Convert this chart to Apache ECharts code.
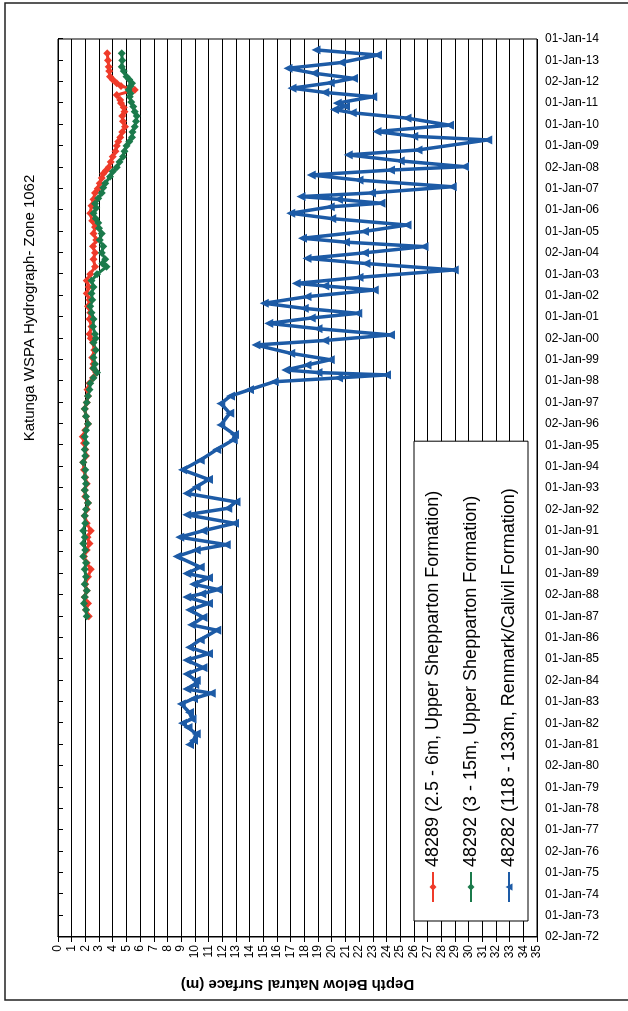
<!DOCTYPE html>
<html>
<head>
<meta charset="utf-8">
<title>Katunga WSPA Hydrograph- Zone 1062</title>
<script src="https://cdn.jsdelivr.net/npm/echarts/dist/echarts.min.js"></script>
<style>
  html, body { margin: 0; padding: 0; background: #fff; overflow: hidden; }
  /* the chart is laid out landscape and turned a quarter turn, like the scanned page */
  #chart {
    position: absolute; left: 0; top: 0;
    width: 1011px; height: 628px;
    transform-origin: 0 0;
    transform: translate(0, 1011px) rotate(-90deg);
  }
</style>
</head>
<body>
<div id="chart"></div>
<script>
// tick labels of the date axis, one a year from 1972 to 2014
const dateLabels = [
  "02-Jan-72", "01-Jan-73", "01-Jan-74", "01-Jan-75", "02-Jan-76", "01-Jan-77",
  "01-Jan-78", "01-Jan-79", "02-Jan-80", "01-Jan-81", "01-Jan-82", "01-Jan-83",
  "02-Jan-84", "01-Jan-85", "01-Jan-86", "01-Jan-87", "02-Jan-88", "01-Jan-89",
  "01-Jan-90", "01-Jan-91", "02-Jan-92", "01-Jan-93", "01-Jan-94", "01-Jan-95",
  "02-Jan-96", "01-Jan-97", "01-Jan-98", "01-Jan-99", "02-Jan-00", "01-Jan-01",
  "01-Jan-02", "01-Jan-03", "02-Jan-04", "01-Jan-05", "01-Jan-06", "01-Jan-07",
  "02-Jan-08", "01-Jan-09", "01-Jan-10", "01-Jan-11", "02-Jan-12", "01-Jan-13",
  "01-Jan-14"
];

const seriesNames = [
  "48289 (2.5 - 6m, Upper Shepparton Formation)",
  "48292 (3 - 15m, Upper Shepparton Formation)",
  "48282 (118 - 133m, Renmark/Calivil Formation)"
];

// [year, depth below natural surface (m)]
const bore48289 = [
  [1987.0, 2.25], [1987.3, 2.05], [1987.6, 2.2], [1987.9, 1.95], [1988.2, 2.1],
  [1988.5, 2.0], [1988.85, 2.2], [1989.2, 2.4], [1989.5, 2.1], [1989.8, 1.9],
  [1990.1, 2.1], [1990.4, 2.3], [1990.7, 2.15], [1991.0, 2.4], [1991.35, 2.1],
  [1991.7, 1.95], [1992.0, 2.1], [1992.3, 2.2], [1992.6, 2.0], [1992.9, 1.95],
  [1993.2, 2.1], [1993.5, 2.0], [1993.85, 1.9], [1994.2, 1.85], [1994.5, 2.05],
  [1994.8, 2.0], [1995.1, 1.9], [1995.4, 1.8], [1995.7, 2.0], [1996.0, 2.2],
  [1996.35, 2.05], [1996.7, 1.95], [1997.0, 2.1], [1997.3, 2.2], [1997.6, 2.15],
  [1997.9, 2.3], [1998.15, 2.55], [1998.4, 2.8], [1998.6, 2.55], [1998.8, 2.6],
  [1999.1, 2.5], [1999.45, 2.65], [1999.8, 2.55], [2000.0, 2.4], [2000.2, 2.3],
  [2000.55, 2.45], [2000.9, 2.3], [2001.2, 2.35], [2001.5, 2.2], [2001.8, 2.3],
  [2002.1, 2.1], [2002.4, 2.25], [2002.7, 2.1], [2003.0, 2.35], [2003.35, 2.7],
  [2003.7, 2.6], [2004.0, 2.7], [2004.3, 2.55], [2004.6, 2.8], [2004.9, 2.6],
  [2005.2, 2.7], [2005.5, 2.5], [2005.85, 2.35], [2006.2, 2.45], [2006.5, 2.6],
  [2006.8, 2.7], [2007.0, 2.9], [2007.25, 3.05], [2007.5, 3.2], [2007.7, 3.3],
  [2007.85, 3.5], [2008.0, 3.7], [2008.25, 3.85], [2008.5, 4.0], [2008.75, 4.2],
  [2009.0, 4.3], [2009.2, 4.4], [2009.4, 4.55], [2009.65, 4.7], [2009.9, 4.9],
  [2010.15, 4.75], [2010.4, 4.7], [2010.6, 4.85], [2010.8, 4.8], [2011.0, 4.6],
  [2011.15, 4.55], [2011.38, 4.3], [2011.62, 5.6], [2011.8, 4.6], [2011.93, 4.3],
  [2012.1, 4.0], [2012.24, 3.8], [2012.5, 3.75], [2012.7, 3.7], [2013.0, 3.65],
  [2013.33, 3.6]
];

const bore48292 = [
  [1987.0, 2.1], [1987.3, 2.05], [1987.6, 1.9], [1987.9, 1.95], [1988.2, 2.1],
  [1988.5, 1.95], [1988.85, 2.05], [1989.2, 1.95], [1989.5, 2.05], [1989.8, 1.85],
  [1990.1, 2.0], [1990.4, 1.85], [1990.7, 1.95], [1991.0, 1.85], [1991.35, 2.0],
  [1991.7, 1.95], [1992.0, 2.05], [1992.3, 2.2], [1992.6, 2.05], [1992.9, 1.95],
  [1993.2, 2.05], [1993.5, 1.95], [1993.85, 2.0], [1994.2, 1.85], [1994.5, 2.0],
  [1994.8, 1.95], [1995.1, 2.05], [1995.4, 1.95], [1995.7, 2.05], [1996.0, 2.2],
  [1996.35, 2.05], [1996.7, 1.95], [1997.0, 2.1], [1997.3, 2.2], [1997.6, 2.3],
  [1997.9, 2.35], [1998.15, 2.6], [1998.4, 2.85], [1998.6, 2.6], [1998.8, 2.7],
  [1999.1, 2.6], [1999.45, 2.75], [1999.8, 2.6], [2000.0, 2.75], [2000.2, 2.7],
  [2000.55, 2.55], [2000.9, 2.6], [2001.2, 2.45], [2001.5, 2.35], [2001.8, 2.5],
  [2002.1, 2.45], [2002.4, 2.6], [2002.7, 2.45], [2003.0, 2.85], [2003.35, 3.55],
  [2003.5, 3.25], [2003.7, 3.45], [2004.0, 3.2], [2004.3, 3.3], [2004.6, 3.05],
  [2004.9, 3.2], [2005.15, 3.0], [2005.4, 2.95], [2005.6, 2.75], [2005.85, 2.6],
  [2006.1, 2.8], [2006.3, 2.7], [2006.55, 2.95], [2006.8, 3.2], [2007.05, 3.3],
  [2007.25, 3.45], [2007.56, 3.8], [2007.8, 4.0], [2008.0, 4.3], [2008.25, 4.5],
  [2008.5, 4.75], [2008.75, 4.85], [2009.0, 5.0], [2009.2, 5.2], [2009.4, 5.4],
  [2009.65, 5.45], [2009.9, 5.6], [2010.15, 5.7], [2010.4, 5.75], [2010.6, 5.6],
  [2010.84, 5.5], [2011.05, 5.35], [2011.3, 5.25], [2011.45, 5.3], [2011.62, 5.15],
  [2011.8, 5.3], [2011.93, 5.4], [2012.1, 5.2], [2012.24, 5.0], [2012.5, 4.8],
  [2012.7, 4.65], [2013.0, 4.7], [2013.33, 4.65]
];

const bore48282 = [
  [1981.0, 9.6], [1981.2, 9.9], [1981.5, 10.1], [1981.8, 9.5], [1982.0, 9.1],
  [1982.2, 9.8], [1982.5, 9.6], [1982.9, 9.0], [1983.15, 9.9], [1983.4, 11.2],
  [1983.6, 9.4], [1983.8, 10.0], [1984.0, 10.1], [1984.3, 9.4], [1984.6, 10.6],
  [1984.95, 9.4], [1985.25, 11.0], [1985.55, 9.6], [1985.9, 10.4], [1986.35, 11.6],
  [1986.6, 9.75], [1986.95, 10.6], [1987.3, 9.6], [1987.6, 11.0], [1987.9, 9.4],
  [1988.05, 10.5], [1988.25, 11.7], [1988.5, 9.9], [1988.8, 11.0], [1989.0, 9.4],
  [1989.3, 10.4], [1989.8, 8.7], [1990.1, 10.1], [1990.35, 12.3], [1990.7, 8.9],
  [1991.0, 10.6], [1991.35, 12.9], [1991.75, 9.4], [1992.05, 12.4], [1992.35, 13.0],
  [1992.75, 9.4], [1993.05, 10.1], [1993.4, 11.0], [1993.85, 9.1], [1994.3, 10.4],
  [1994.8, 11.6], [1995.25, 12.8], [1995.5, 12.9], [1995.95, 11.9], [1996.5, 12.55],
  [1996.95, 11.9], [1997.3, 12.6], [1997.6, 14.0], [1997.97, 15.8], [1998.15, 20.5],
  [1998.29, 24.0], [1998.4, 19.0], [1998.52, 16.65], [1998.75, 18.2], [1999.0, 19.9],
  [1999.3, 17.0], [1999.69, 14.46], [1999.9, 19.5], [2000.16, 24.3], [2000.45, 19.0],
  [2000.7, 15.4], [2000.95, 18.5], [2001.17, 21.9], [2001.4, 18.0], [2001.64, 15.07],
  [2001.95, 18.2], [2002.26, 23.1], [2002.45, 19.5], [2002.57, 17.4], [2002.85, 22.0],
  [2003.2, 28.95], [2003.5, 22.5], [2003.74, 18.2], [2004.0, 22.4], [2004.29, 26.75],
  [2004.5, 21.0], [2004.68, 17.87], [2005.0, 22.4], [2005.3, 25.5], [2005.6, 20.0],
  [2005.85, 17.0], [2006.15, 19.9], [2006.32, 23.6], [2006.5, 20.5], [2006.63, 17.75],
  [2006.8, 22.9], [2007.09, 28.8], [2007.4, 22.0], [2007.64, 18.5], [2007.87, 24.3],
  [2008.03, 29.7], [2008.3, 25.0], [2008.58, 21.2], [2008.81, 26.3], [2009.28, 31.4],
  [2009.45, 26.0], [2009.67, 23.3], [2009.97, 28.6], [2010.3, 25.5], [2010.55, 21.5],
  [2010.7, 20.2], [2010.85, 21.0], [2011.0, 20.4], [2011.3, 23.0], [2011.5, 19.5],
  [2011.7, 17.1], [2011.95, 19.9], [2012.16, 21.6], [2012.4, 18.7], [2012.63, 16.8],
  [2012.9, 20.7], [2013.25, 23.35], [2013.49, 18.85]
];

const FONT = "'Liberation Sans', Arial, sans-serif";

const chart = echarts.init(document.getElementById("chart"));

const option = {
  animation: false,
  backgroundColor: "#fff",
  grid: {
    left: 74, right: 39, top: 58, bottom: 91,
    show: true, borderColor: "#000", borderWidth: 1
  },
  graphic: [
    {
      type: "text", x: 703, y: 30,
      style: {
        text: "Katunga WSPA Hydrograph- Zone 1062",
        fontFamily: FONT, fontSize: 15, fill: "#000",
        textAlign: "center", textVerticalAlign: "middle"
      }
    },
    {
      type: "rect", silent: true,
      shape: { x: 11, y: 5, width: 997, height: 640 },
      style: { fill: null, stroke: "#222", lineWidth: 1.5 }
    }
  ],
  legend: {
    orient: "vertical",
    left: 90, top: 414,
    padding: [10, 47, 10, 18],
    itemGap: 20,
    itemWidth: 30, itemHeight: 9,
    backgroundColor: "#fff",
    borderColor: "#000", borderWidth: 1,
    borderRadius: 0,
    textStyle: { fontFamily: FONT, fontSize: 18, color: "#000" },
    data: seriesNames
  },
  xAxis: {
    type: "value",
    min: 1972, max: 2014, interval: 1,
    axisLine: { lineStyle: { color: "#000", width: 1 } },
    axisTick: { show: true, length: 5, lineStyle: { color: "#000" } },
    splitLine: { show: false },
    axisLabel: {
      rotate: -90, margin: 8,
      fontFamily: FONT, fontSize: 12, color: "#000",
      formatter: v => dateLabels[Math.round(v - 1972)]
    }
  },
  yAxis: {
    type: "value",
    inverse: true,
    min: 0, max: 35, interval: 1,
    name: "Depth Below Natural Surface (m)",
    nameLocation: "middle", nameGap: 40,
    nameTextStyle: { fontFamily: FONT, fontSize: 15, fontWeight: "bold", color: "#000" },
    axisLine: { show: true, lineStyle: { color: "#000", width: 1 } },
    axisTick: { show: true, length: 5, lineStyle: { color: "#000" } },
    splitLine: { show: true, lineStyle: { color: "#000", width: 1 } },
    axisLabel: { fontFamily: FONT, fontSize: 12, color: "#000", margin: 8 }
  },
  series: [
    {
      name: seriesNames[0], type: "line", data: bore48289,
      symbol: "diamond", symbolSize: 8,
      lineStyle: { color: "#ef3b2a", width: 3 },
      itemStyle: { color: "#ef3b2a" }
    },
    {
      name: seriesNames[1], type: "line", data: bore48292,
      symbol: "diamond", symbolSize: 8,
      lineStyle: { color: "#1b7a4b", width: 3 },
      itemStyle: { color: "#1b7a4b" }
    },
    {
      name: seriesNames[2], type: "line", data: bore48282,
      symbol: "triangle", symbolSize: 9,
      lineStyle: { color: "#1d5ba6", width: 3.5 },
      itemStyle: { color: "#1d5ba6" }
    }
  ]
};

chart.setOption(option);
</script>
</body>
</html>
